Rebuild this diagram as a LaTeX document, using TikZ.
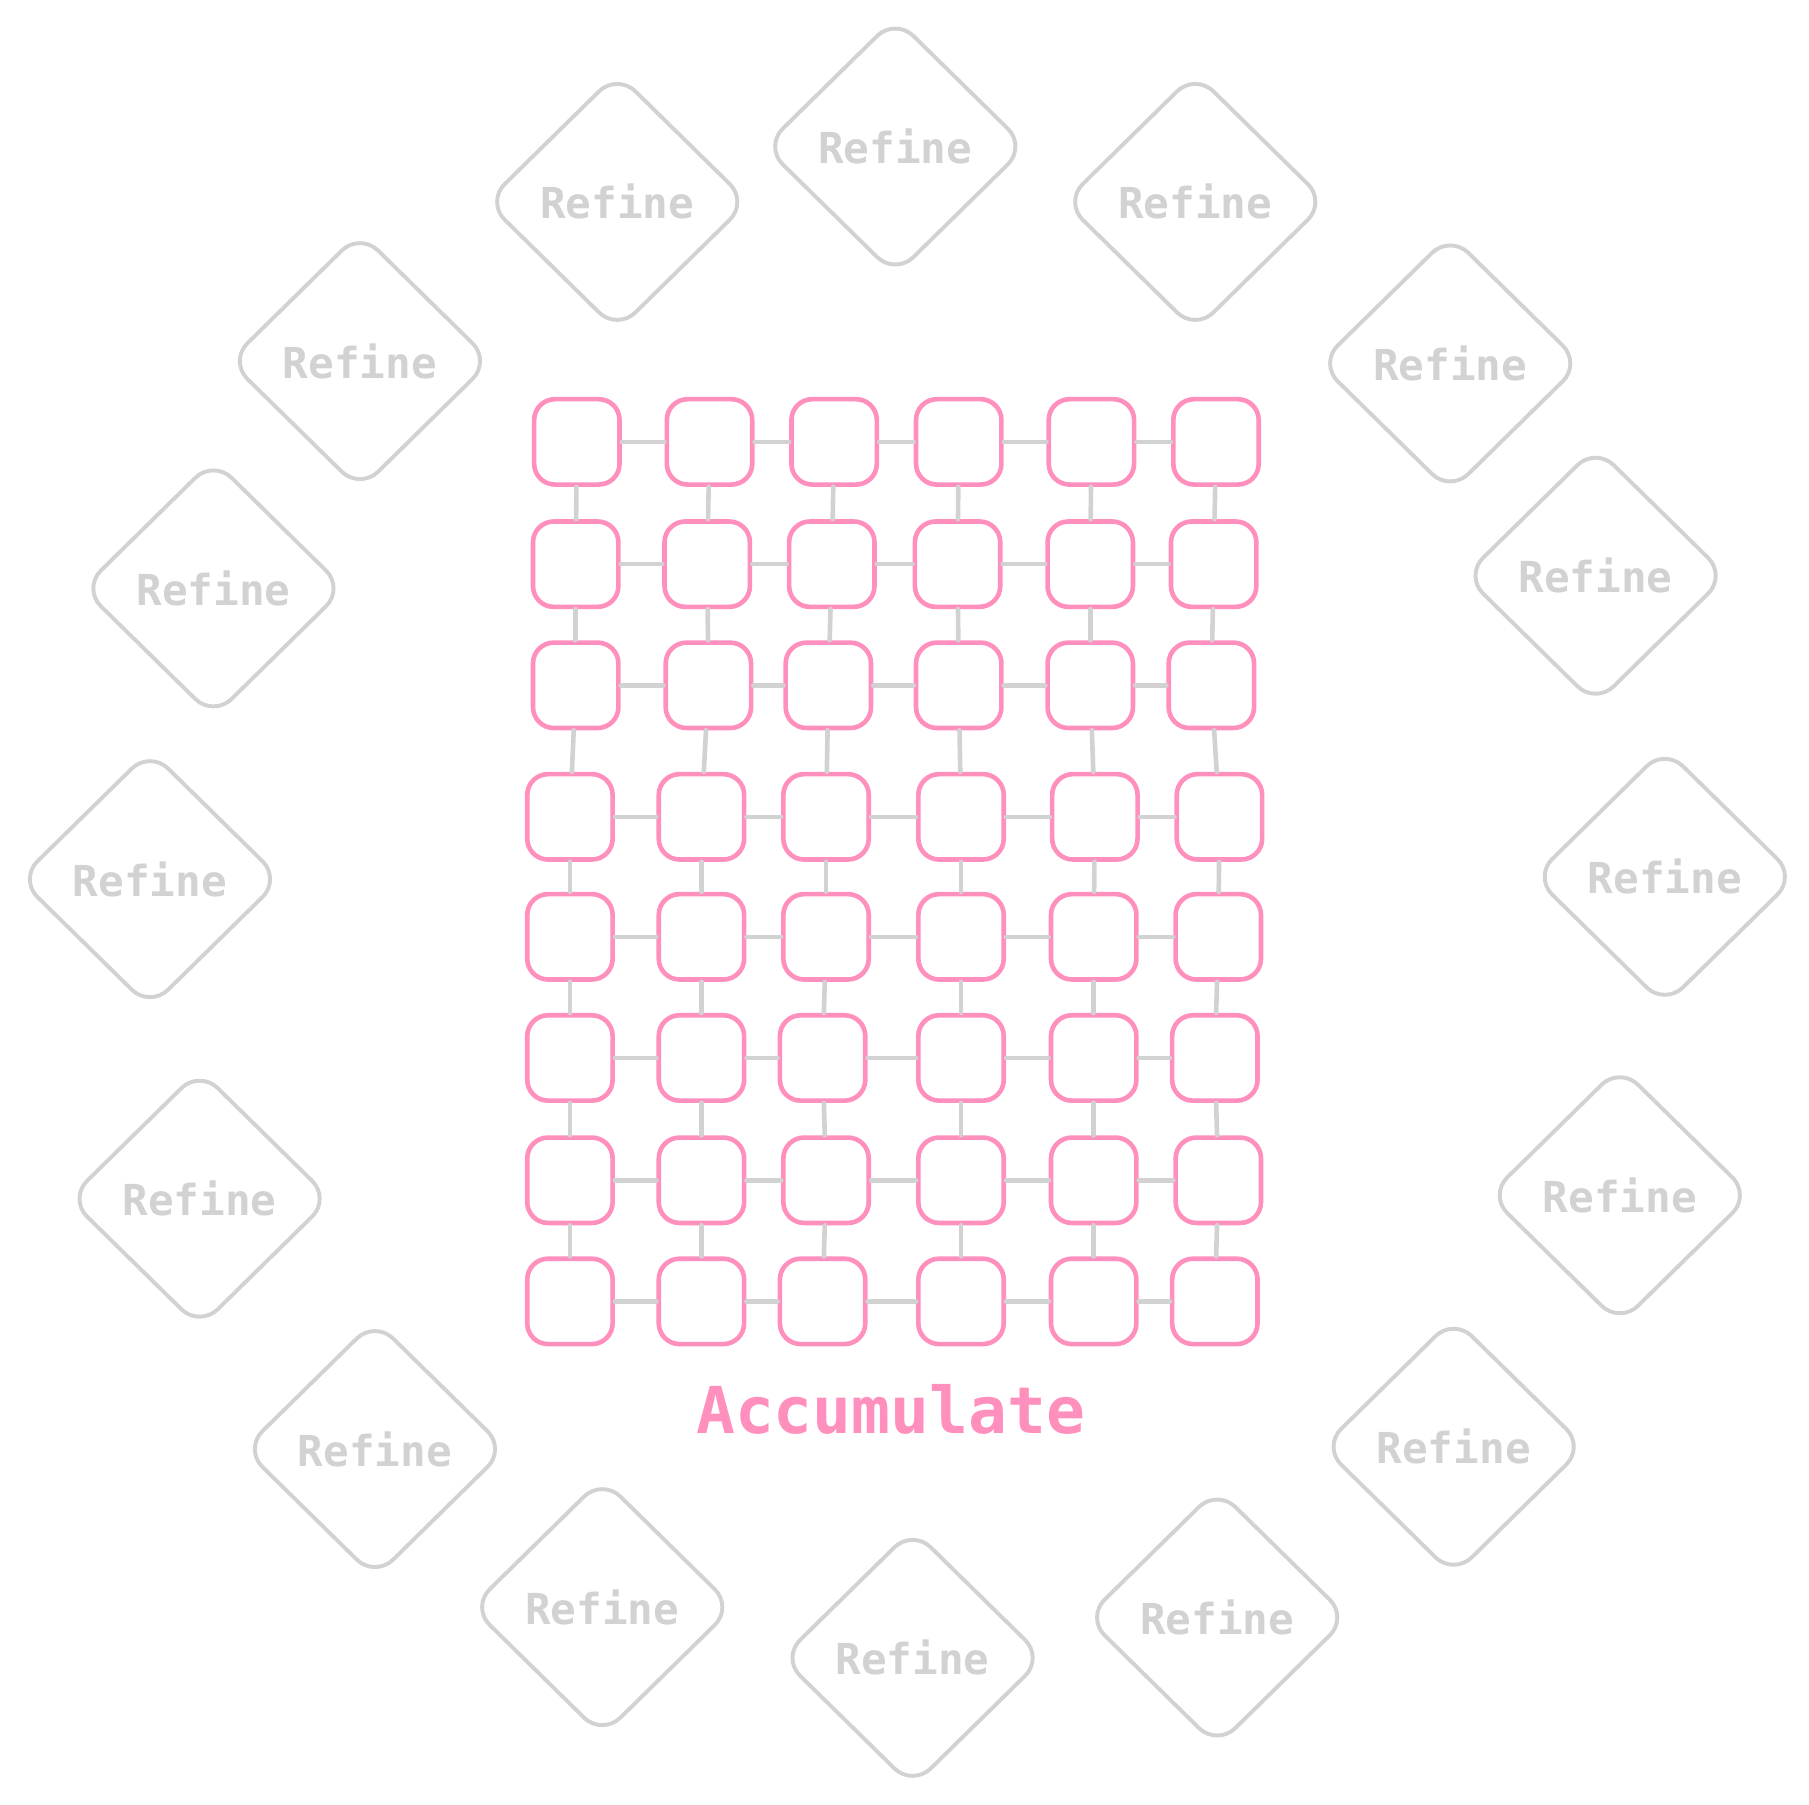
\documentclass[tikz,border=0pt]{standalone}
\usepackage{fontspec}
\usetikzlibrary{shapes.geometric}
\newfontfamily\handfont{DejaVu Sans Mono}
\definecolor{pnk}{RGB}{255,143,189}
\definecolor{gry}{RGB}{210,210,210}
\begin{document}
\begin{tikzpicture}[x=0.5pt,y=-0.5pt,
  refine/.style={diamond, draw=gry, line width=1.7pt, rounded corners=11pt,
    minimum width=114pt, minimum height=112pt, inner sep=0pt, text=gry,
    font=\handfont\bfseries\fontsize{18.5}{20}\selectfont},
  cell/.style={draw=pnk, line width=2pt, rounded corners=9pt,
    minimum width=37pt, minimum height=37pt, inner sep=0pt},
  link/.style={draw=gry, line width=2pt, line cap=round},
  acc/.style={text=pnk, font=\handfont\bfseries\fontsize{28}{30}\selectfont}]
\useasboundingbox (0,0) rectangle (1568,1564);
% grid of cells
\foreach \r/\y/\xs in {
  1/383/{500,615,723,831,946,1054},
  2/489/{499,613,721,830,945,1052},
  3/594/{499,614,718,831,945,1050},
  4/708/{494,608,716,833,949,1057},
  5/812/{494,608,716,833,948,1056},
  6/917/{494,608,713,833,948,1053},
  7/1023/{494,608,716,833,948,1056},
  8/1128/{494,608,713,833,948,1053}}{
  \foreach \x [count=\c] in \xs {
    \node[cell] (b-\r-\c) at (\x,\y) {};
  }
}
% horizontal links
\foreach \r in {1,...,8}{
  \foreach \c [evaluate=\c as \n using int(\c+1)] in {1,...,5}{
    \draw[link] (b-\r-\c) -- (b-\r-\n);
  }
}
% vertical links
\foreach \r [evaluate=\r as \n using int(\r+1)] in {1,...,7}{
  \foreach \c in {1,...,6}{
    \draw[link] (b-\r-\c) -- (b-\n-\c);
  }
}
\node[acc] (acc) at (772,1222) {Accumulate};
% refine diamonds
\foreach \i/\x/\y in {
  1/776/127, 2/535/175, 3/1036/175, 4/312/313, 5/1257/315, 6/185/510,
  7/1383/499, 8/130/762, 9/1443/760, 10/173/1039, 11/1404/1036,
  12/325/1256, 13/1260/1254, 14/522/1393, 15/1055/1402, 16/791/1437}{
  \node[refine] (r\i) at (\x,\y) {Refine};
}
\end{tikzpicture}
\end{document}
